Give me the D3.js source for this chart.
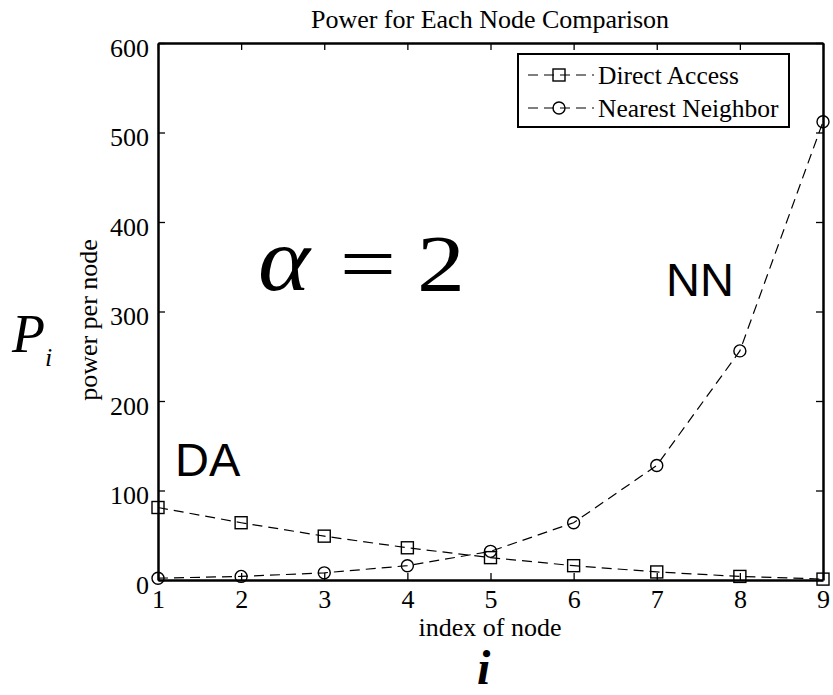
<!DOCTYPE html>
<html>
<head>
<meta charset="utf-8">
<script src="https://cdn.jsdelivr.net/npm/d3@7/dist/d3.min.js"></script>
<style>
  body { margin: 0; background: #fff; }
  svg { display: block; }
  text { fill: #000; }
</style>
</head>
<body>
<svg id="chart" width="833" height="695"></svg>
<script>
// Node indices and per-node power for the two schemes
const nodeIndex = [1, 2, 3, 4, 5, 6, 7, 8, 9];
const directAccess = [81, 64, 49, 36, 25, 16, 9, 4, 1];
const nearestNeighbor = [2, 4, 8, 16, 32, 64, 128, 256, 512];
const xTicks = [1, 2, 3, 4, 5, 6, 7, 8, 9];
const yTicks = [0, 100, 200, 300, 400, 500, 600];
const seriesNames = ["Direct Access", "Nearest Neighbor"];

const svg = d3.select("#chart");
const x = d3.scaleLinear().domain([1, 9]).range([158, 823]);
const y = d3.scaleLinear().domain([0, 600]).range([580, 43]);
const serif = "'Liberation Serif', 'Times New Roman', serif";
const sans = "'Liberation Sans', Arial, sans-serif";
const tickLen = 7;
const fs = 26;

// Axes with inward ticks on all four sides
const gB = svg.append("g").attr("transform", `translate(0,${y(0)})`)
  .call(d3.axisBottom(x).tickValues(xTicks).tickSizeInner(-tickLen).tickSizeOuter(0).tickPadding(10));
const gT = svg.append("g").attr("transform", `translate(0,${y(600)})`)
  .call(d3.axisTop(x).tickValues(xTicks).tickSizeInner(-tickLen).tickSizeOuter(0).tickFormat(""));
const gL = svg.append("g").attr("transform", `translate(${x(1)},0)`)
  .call(d3.axisLeft(y).tickValues(yTicks).tickSizeInner(-tickLen).tickSizeOuter(0).tickPadding(9));
const gR = svg.append("g").attr("transform", `translate(${x(9)},0)`)
  .call(d3.axisRight(y).tickValues(yTicks).tickSizeInner(-tickLen).tickSizeOuter(0).tickFormat(""));

[gB, gT, gL, gR].forEach(g => {
  g.attr("font-size", fs).attr("font-family", serif);
  g.select(".domain").attr("stroke", "#000").attr("stroke-width", 2.5);
  g.selectAll(".tick line").attr("stroke", "#000").attr("stroke-width", 1.3);
  g.selectAll(".tick text").attr("fill", "#000");
});
gL.selectAll(".tick text").attr("dy", "0.5em");

// Title and axis labels
svg.append("text").attr("x", 490).attr("y", 28).attr("text-anchor", "middle")
  .attr("font-family", serif).attr("font-size", fs).text("Power for Each Node Comparison");
svg.append("text").attr("x", 490).attr("y", 636).attr("text-anchor", "middle")
  .attr("font-family", serif).attr("font-size", fs).text("index of node");
svg.append("text").attr("transform", "translate(97,320) rotate(-90)").attr("text-anchor", "middle")
  .attr("font-family", serif).attr("font-size", fs).text("power per node");

// Series lines and markers
const line = d3.line().x((d, i) => x(nodeIndex[i])).y(d => y(d));
const dash = "10,6";

[directAccess, nearestNeighbor].forEach(s => {
  svg.append("path").datum(s).attr("d", line)
    .attr("fill", "none").attr("stroke", "#000").attr("stroke-width", 1.2).attr("stroke-dasharray", dash);
});

const sq = 12, r = 6;
svg.append("g").selectAll("rect").data(directAccess).join("rect")
  .attr("x", (d, i) => x(nodeIndex[i]) - sq / 2).attr("y", d => y(d) - sq / 2)
  .attr("width", sq).attr("height", sq)
  .attr("fill", "none").attr("stroke", "#000").attr("stroke-width", 1.4);
svg.append("g").selectAll("circle").data(nearestNeighbor).join("circle")
  .attr("cx", (d, i) => x(nodeIndex[i])).attr("cy", d => y(d)).attr("r", r)
  .attr("fill", "none").attr("stroke", "#000").attr("stroke-width", 1.4);

// Legend
const lg = svg.append("g");
lg.append("rect").attr("x", 518).attr("y", 54).attr("width", 271).attr("height", 73)
  .attr("fill", "#fff").attr("stroke", "#000").attr("stroke-width", 2);
seriesNames.forEach((name, k) => {
  const ly = 75 + k * 33;
  lg.append("line").attr("x1", 528).attr("x2", 594).attr("y1", ly).attr("y2", ly)
    .attr("stroke", "#000").attr("stroke-width", 1.2).attr("stroke-dasharray", dash);
  if (k === 0) {
    lg.append("rect").attr("x", 559 - sq / 2).attr("y", ly - sq / 2).attr("width", sq).attr("height", sq)
      .attr("fill", "none").attr("stroke", "#000").attr("stroke-width", 1.4);
  } else {
    lg.append("circle").attr("cx", 559).attr("cy", ly).attr("r", r)
      .attr("fill", "none").attr("stroke", "#000").attr("stroke-width", 1.4);
  }
  lg.append("text").attr("x", 598).attr("y", ly + 9).attr("font-family", serif).attr("font-size", 25.5).text(name);
});

// Annotations: the exponent, scheme tags and the axis symbols
function glyph(ch, cx, base, size, sx, italic) {
  svg.append("text")
    .attr("transform", `translate(${cx},${base}) scale(${sx},1)`)
    .attr("text-anchor", "middle").attr("font-family", serif).attr("font-size", size)
    .attr("font-style", italic ? "italic" : "normal").text(ch);
}
glyph("α", 284, 290, 90, 1.1, true);
glyph("=", 368, 291, 80, 1.25, false);
glyph("2", 441, 291, 80, 1.2, false);

svg.append("text").attr("x", 666).attr("y", 296).attr("font-family", sans).attr("font-size", 47).text("NN");
svg.append("text").attr("x", 175).attr("y", 476).attr("font-family", sans).attr("font-size", 47).text("DA");
svg.append("text").attr("x", 12).attr("y", 352).attr("font-family", serif).attr("font-size", 54)
  .attr("font-style", "italic").text("P");
svg.append("text").attr("x", 45).attr("y", 366).attr("font-family", serif).attr("font-size", 26)
  .attr("font-style", "italic").text("i");
svg.append("text").attr("x", 477).attr("y", 684).attr("font-family", serif).attr("font-size", 48)
  .attr("font-style", "italic").attr("font-weight", "bold").text("i");
</script>
</body>
</html>
